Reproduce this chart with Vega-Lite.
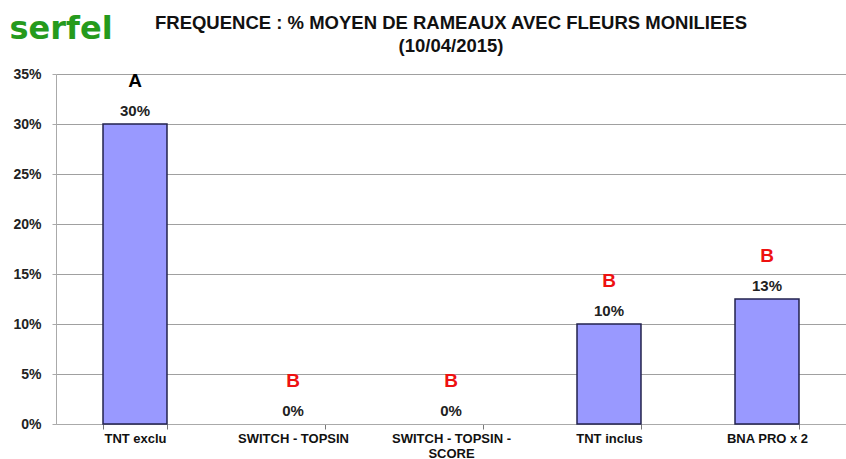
{
  "$schema": "https://vega.github.io/schema/vega-lite/v6.json",
  "width": 790,
  "height": 350,
  "autosize": {"type": "none"},
  "padding": {"left": 56, "top": 74, "right": 0, "bottom": 35},
  "background": "white",
  "title": {
    "text": ["FREQUENCE : % MOYEN DE RAMEAUX AVEC FLEURS MONILIEES", "(10/04/2015)"],
    "anchor": "middle",
    "frame": "group",
    "font": "Liberation Sans",
    "fontSize": 18.5,
    "fontWeight": "bold",
    "color": "#111111",
    "lineHeight": 23,
    "offset": 0,
    "dy": 43
  },
  "data": {
    "values": [
      {"cat": "TNT exclu", "value": 0.30, "label": "30%", "letter": "A"},
      {"cat": "SWITCH - TOPSIN", "value": 0.0, "label": "0%", "letter": "B"},
      {"cat": "SWITCH - TOPSIN - SCORE", "value": 0.0, "label": "0%", "letter": "B"},
      {"cat": "TNT inclus", "value": 0.10, "label": "10%", "letter": "B"},
      {"cat": "BNA PRO x 2", "value": 0.125, "label": "13%", "letter": "B"}
    ]
  },
  "encoding": {
    "x": {
      "field": "cat",
      "type": "nominal",
      "sort": ["TNT exclu", "SWITCH - TOPSIN", "SWITCH - TOPSIN - SCORE", "TNT inclus", "BNA PRO x 2"],
      "scale": {"paddingInner": 0.595, "paddingOuter": 0.2975},
      "axis": {
        "title": null,
        "labelAngle": 0,
        "labelFont": "Liberation Sans",
        "labelFontSize": 13,
        "labelFontWeight": "bold",
        "labelColor": "#111111",
        "labelPadding": 3,
        "labelLineHeight": 15,
        "labelExpr": "datum.label == 'SWITCH - TOPSIN - SCORE' ? ['SWITCH - TOPSIN -', 'SCORE'] : datum.label",
        "tickBand": "extent",
        "ticks": true,
        "tickSize": 5,
        "tickColor": "#777777",
        "domainColor": "#aaaaaa",
        "grid": false
      }
    },
    "y": {
      "field": "value",
      "type": "quantitative",
      "scale": {"domain": [0, 0.35]},
      "axis": {
        "values": [0, 0.05, 0.1, 0.15, 0.2, 0.25, 0.3, 0.35],
        "format": ".0%",
        "title": "serfel",
        "titleAngle": 0,
        "titleX": -47,
        "titleY": -36,
        "titleAlign": "left",
        "titleBaseline": "alphabetic",
        "titleColor": "#259a1c",
        "titleFont": "DejaVu Sans",
        "titleFontSize": 32,
        "titleFontWeight": "bold",
        "labelFont": "Liberation Sans",
        "labelFontSize": 14,
        "labelFontWeight": "bold",
        "labelColor": "#222222",
        "labelPadding": 11,
        "ticks": true,
        "tickSize": 4,
        "tickColor": "#aaaaaa",
        "domainColor": "#aaaaaa",
        "grid": true,
        "gridColor": "#a0a0a0",
        "gridWidth": 1
      }
    }
  },
  "layer": [
    {
      "transform": [{"filter": "datum.value > 0"}],
      "mark": {"type": "bar", "color": "#9999ff", "stroke": "#22224d", "strokeWidth": 1.5}
    },
    {
      "mark": {"type": "text", "dy": -5, "baseline": "bottom", "font": "Liberation Sans", "fontSize": 15, "fontWeight": "bold", "color": "#222222"},
      "encoding": {"text": {"field": "label"}}
    },
    {
      "mark": {"type": "text", "dy": -33, "baseline": "bottom", "font": "Liberation Sans", "fontSize": 19, "fontWeight": "bold"},
      "encoding": {
        "text": {"field": "letter"},
        "color": {
          "field": "letter",
          "type": "nominal",
          "scale": {"domain": ["A", "B"], "range": ["#000000", "#ee1111"]},
          "legend": null
        }
      }
    }
  ],
  "config": {"view": {"stroke": null}}
}
